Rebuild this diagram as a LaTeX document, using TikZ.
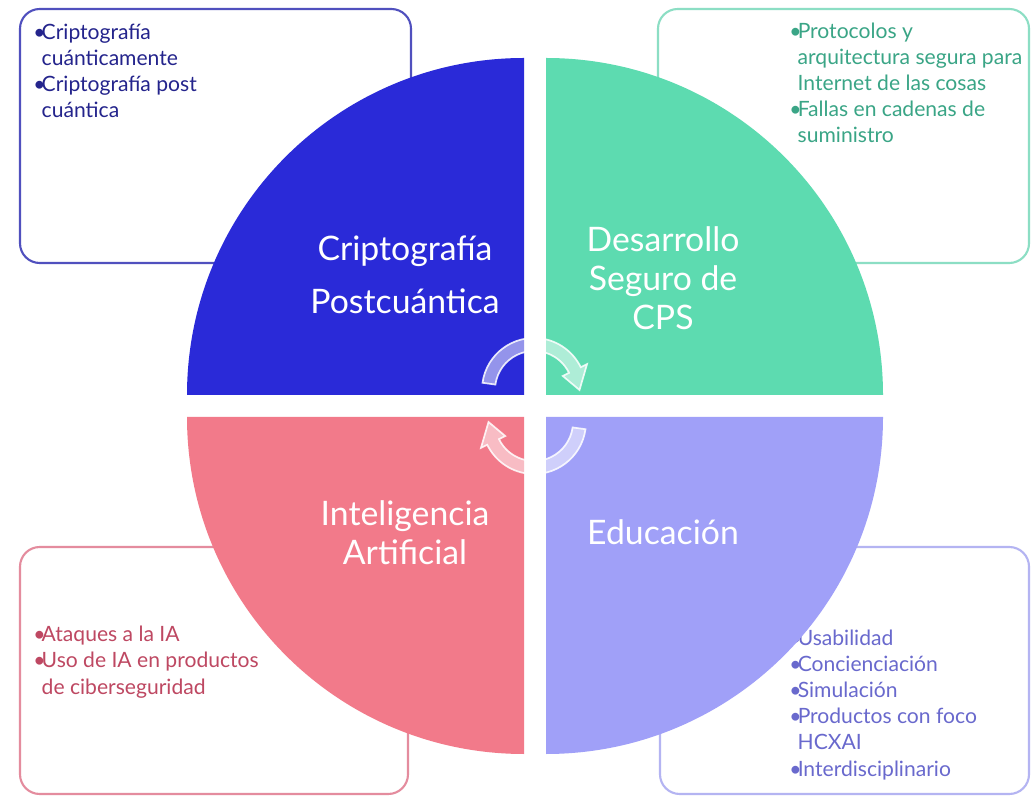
\documentclass[tikz,border=0pt]{standalone}
\usepackage{fontspec}
\setmainfont{Lato}

\definecolor{cblue}{RGB}{42,42,216}
\definecolor{cgreen}{RGB}{93,219,176}
\definecolor{cred}{RGB}{242,122,138}
\definecolor{cpurple}{RGB}{160,160,248}
\definecolor{lblue}{RGB}{80,80,190}
\definecolor{lgreen}{RGB}{140,222,196}
\definecolor{lred}{RGB}{228,140,158}
\definecolor{lpurple}{RGB}{180,180,242}
\definecolor{tblue}{RGB}{36,36,140}
\definecolor{tgreen}{RGB}{58,165,134}
\definecolor{tred}{RGB}{190,72,98}
\definecolor{tpurple}{RGB}{105,105,205}

\newlength\itmw
\setlength\itmw{6pt}
\newcommand\itm{\makebox[\itmw][l]{•}}

\tikzset{
  box/.style={rounded corners=14pt, line width=1.5pt},
  boxtext/.style={anchor=base west, align=left, inner sep=0pt,
    font=\fontsize{15}{18.5}\selectfont},
  quadtext/.style={align=center, inner sep=0pt, text=white},
  cyclearrow/.style={fill=white, fill opacity=0.5, draw=white, draw opacity=0.85, line width=1.2pt}
}

\begin{document}
\begin{tikzpicture}[x=0.025cm, y=0.025cm]
    \useasboundingbox (0,0) rectangle (1031,796);
    \fill[white] (0,0) rectangle (1031,796);

    % 文本框
    \draw[box, draw=lblue] (20,533) rectangle (411,787);
    \draw[box, draw=lgreen] (658,533) rectangle (1029,787);
    \draw[box, draw=lred] (20,2) rectangle (408,249);
    \draw[box, draw=lpurple] (660,2) rectangle (1029,249);

    % 列表 (基线为最后一行)
    \node[boxtext, text=tblue] (cripto-list) at (33,678)
        {\itm Criptografía\\\hspace*{\itmw}cuánticamente\\\itm Criptografía post\\\hspace*{\itmw}cuántica};
    \node[boxtext, text=tgreen] (cps-list) at (789,653)
        {\itm Protocolos y\\\hspace*{\itmw}arquitectura segura para\\\hspace*{\itmw}Internet de las cosas\\\itm Fallas en cadenas de\\\hspace*{\itmw}suministro};
    \node[boxtext, text=tred] (ia-list) at (33,102)
        {\itm Ataques a la IA\\\itm Uso de IA en productos\\\hspace*{\itmw}de ciberseguridad};
    \node[boxtext, text=tpurple] (edu-list) at (789,20)
        {\itm Usabilidad\\\itm Concienciación\\\itm Simulación\\\itm Productos con foco\\\hspace*{\itmw}HCXAI\\\itm Interdisciplinario};

    % 四个扇形
    \fill[cblue] (524,401) -- (187,401) arc[start angle=180, end angle=90, radius=337] -- cycle;
    \fill[cgreen] (546,401) -- (546,738) arc[start angle=90, end angle=0, radius=337] -- cycle;
    \fill[cred] (524,379) -- (187,379) arc[start angle=180, end angle=270, radius=337] -- cycle;
    \fill[cpurple] (546,379) -- (883,379) arc[start angle=0, end angle=-90, radius=337] -- cycle;

    \node[quadtext, font=\fontsize{24}{37.7}\selectfont] (cripto) at (405,521) {Criptografía\\Postcuántica};
    \node[quadtext, font=\fontsize{24}{27.7}\selectfont] (cps) at (663,518) {Desarrollo\\Seguro de\\CPS};
    \node[quadtext, font=\fontsize{24}{27.7}\selectfont] (ia) at (405,263) {Inteligencia\\Artificial};
    \node[quadtext, font=\fontsize{24}{27.7}\selectfont] (edu) at (663,264) {Educación};

    % 循环箭头
    \begin{scope}[shift={(534,406)}]
        \filldraw[cyclearrow] (172:52) arc[start angle=172, end angle=26, radius=52]
            -- (26:59) -- (0:45.5) -- (26:32) -- (26:39)
            arc[start angle=26, end angle=172, radius=39] -- cycle;
    \end{scope}
    \begin{scope}[shift={(534,374)}]
        \filldraw[cyclearrow] (-8:52) arc[start angle=-8, end angle=-154, radius=52]
            -- (-154:59) -- (-180:45.5) -- (-154:32) -- (-154:39)
            arc[start angle=-154, end angle=-8, radius=39] -- cycle;
    \end{scope}
\end{tikzpicture}
\end{document}
